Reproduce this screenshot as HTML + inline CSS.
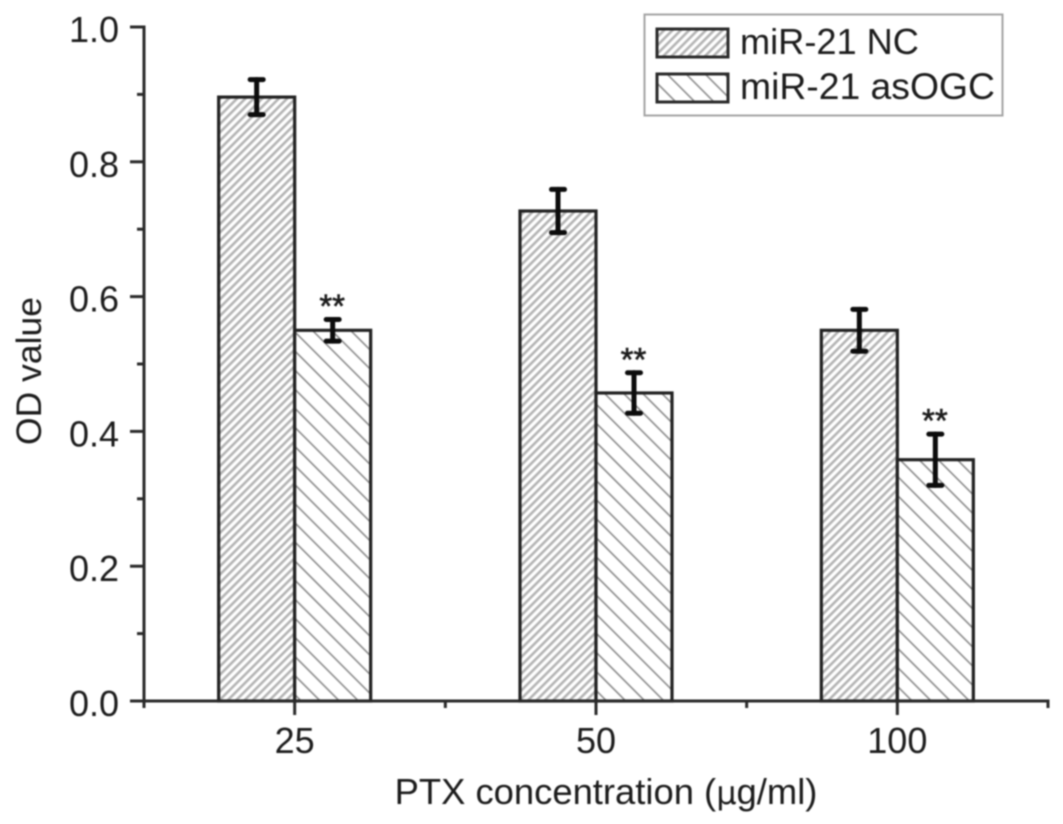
<!DOCTYPE html>
<html lang="en">
<head>
<meta charset="utf-8">
<title>OD value by PTX concentration</title>
<style>
html,body{margin:0;padding:0;background:#fff;}
body{width:1063px;height:824px;overflow:hidden;}
svg{display:block;filter:blur(0.7px);}
text{font-family:"Liberation Sans",Arial,sans-serif;fill:#1c1c1c;}
</style>
</head>
<body>
<svg id="chart" xmlns="http://www.w3.org/2000/svg" width="1063" height="824" viewBox="0 0 1063 824">
  <defs>
    <pattern id="hatch-nc" patternUnits="userSpaceOnUse" width="5.9" height="5.9" patternTransform="rotate(45)">
      <rect width="5.9" height="5.9" fill="#fff"/>
      <rect x="0" width="2.6" height="5.9" fill="#b4b4b4"/>
    </pattern>
    <pattern id="hatch-as" patternUnits="userSpaceOnUse" width="13.5" height="13.5" patternTransform="rotate(-45)">
      <rect width="13.5" height="13.5" fill="#fff"/>
      <rect x="0" width="1.6" height="13.5" fill="#8c8c8c"/>
    </pattern>
  </defs>
  <g id="bars"></g>
  <g id="errors"></g>
  <g id="axes"></g>
  <text transform="translate(41,371) rotate(-90)" text-anchor="middle" font-size="35.5">OD value</text>
  <text x="606" y="804" text-anchor="middle" font-size="36.4">PTX concentration (<tspan font-family="'DejaVu Sans',sans-serif" font-size="32">µ</tspan>g/ml)</text>
  <g>
    <rect x="644.5" y="14.5" width="358" height="101" fill="#fff" stroke="#a4a4a4" stroke-width="2"/>
    <rect x="657" y="29" width="71" height="28" fill="url(#hatch-nc)" stroke="#2a2a2a" stroke-width="3"/>
    <text x="740" y="54" font-size="36.2">miR-21 NC</text>
    <rect x="657" y="74" width="71" height="28" fill="url(#hatch-as)" stroke="#2a2a2a" stroke-width="3"/>
    <text x="740" y="99" font-size="37.3">miR-21 asOGC</text>
  </g>
</svg>
<script>
const categories = ['25', '50', '100'];
const ncValues = [0.896, 0.727, 0.550];
const ncErrors = [0.026, 0.032, 0.031];
const asValues = [0.550, 0.457, 0.358];
const asErrors = [0.016, 0.030, 0.038];
const significance = ['**', '**', '**'];
const yTickLabels = ['0.0', '0.2', '0.4', '0.6', '0.8', '1.0'];
const yMinorTicks = [0.1, 0.3, 0.5, 0.7, 0.9];

const NS = 'http://www.w3.org/2000/svg';
const plot = {left: 144, right: 1048, bottom: 701, top: 27};
const yMax = 1;
const barWidth = 76;

function yScale(v) {
  return plot.bottom - (v / yMax) * (plot.bottom - plot.top);
}
function xBand(i) {
  return plot.left + (plot.right - plot.left) * (i + 0.5) / categories.length;
}
function make(tag, attrs, parent) {
  const el = document.createElementNS(NS, tag);
  for (const k in attrs) el.setAttribute(k, attrs[k]);
  parent.appendChild(el);
  return el;
}

const barsG = document.getElementById('bars');
const errG = document.getElementById('errors');
const axesG = document.getElementById('axes');
const AXIS = {stroke: '#2a2a2a', 'stroke-width': 3};
const BAR = {stroke: '#222', 'stroke-width': 3.2};

function drawBar(x, value, hatch, name) {
  const y = yScale(value);
  const r = make('rect', Object.assign({x: x, y: y, width: barWidth, height: plot.bottom - y, fill: 'url(#' + hatch + ')'}, BAR), barsG);
  
  
}
function drawError(cx, value, err, name) {
  const top = yScale(value + err), bot = yScale(value - err);
  const g = make('g', {stroke: '#0c0c0c', 'stroke-width': 5, 'stroke-linecap': 'round'}, errG);
  
  
  make('line', {x1: cx, x2: cx, y1: top, y2: bot}, g);
  make('line', {x1: cx - 6.5, x2: cx + 6.5, y1: top, y2: top}, g);
  make('line', {x1: cx - 6.5, x2: cx + 6.5, y1: bot, y2: bot}, g);
}

categories.forEach(function (cat, i) {
  const c = xBand(i);
  drawBar(c - barWidth, ncValues[i], 'hatch-nc', 'bar-nc-' + cat);
  drawBar(c, asValues[i], 'hatch-as', 'bar-asogc-' + cat);
  drawError(c - barWidth / 2, ncValues[i], ncErrors[i], 'error-bar-nc-' + cat);
  drawError(c + barWidth / 2, asValues[i], asErrors[i], 'error-bar-asogc-' + cat);
  const star = make('text', {x: c + barWidth / 2 - 0.5, y: yScale(asValues[i] + asErrors[i]) - 2, 'text-anchor': 'middle', 'font-size': 33, stroke: '#1c1c1c', 'stroke-width': 0.6}, errG);
  star.textContent = significance[i];
  
  

  const tick = make('line', Object.assign({x1: c, x2: c, y1: plot.bottom, y2: plot.bottom + 14}, AXIS), axesG);
  
  
  const lab = make('text', {x: c, y: plot.bottom + 52, 'text-anchor': 'middle', 'font-size': 36}, axesG);
  lab.textContent = cat;
  
  
});

for (let i = 0; i <= categories.length; i++) {
  const x = plot.left + (plot.right - plot.left) * i / categories.length;
  const m = make('line', Object.assign({x1: x, x2: x, y1: plot.bottom, y2: plot.bottom + 7}, AXIS), axesG);
  
  
}

const yAxis = make('line', Object.assign({x1: plot.left, x2: plot.left, y1: plot.top - 1.5, y2: plot.bottom + 1.5}, AXIS), axesG);


const xAxis = make('line', Object.assign({x1: plot.left, x2: plot.right + 1.5, y1: plot.bottom, y2: plot.bottom}, AXIS), axesG);



yTickLabels.forEach(function (label) {
  const y = yScale(parseFloat(label));
  const t = make('line', Object.assign({x1: plot.left - 14, x2: plot.left, y1: y, y2: y}, AXIS), axesG);
  
  
  const lab = make('text', {x: plot.left - 25, y: y + 15, 'text-anchor': 'end', 'font-size': 36}, axesG);
  lab.textContent = label;
  
  
});
yMinorTicks.forEach(function (v) {
  const y = yScale(v);
  const t = make('line', Object.assign({x1: plot.left - 7, x2: plot.left, y1: y, y2: y}, AXIS), axesG);
  
  
});
</script>
</body>
</html>
